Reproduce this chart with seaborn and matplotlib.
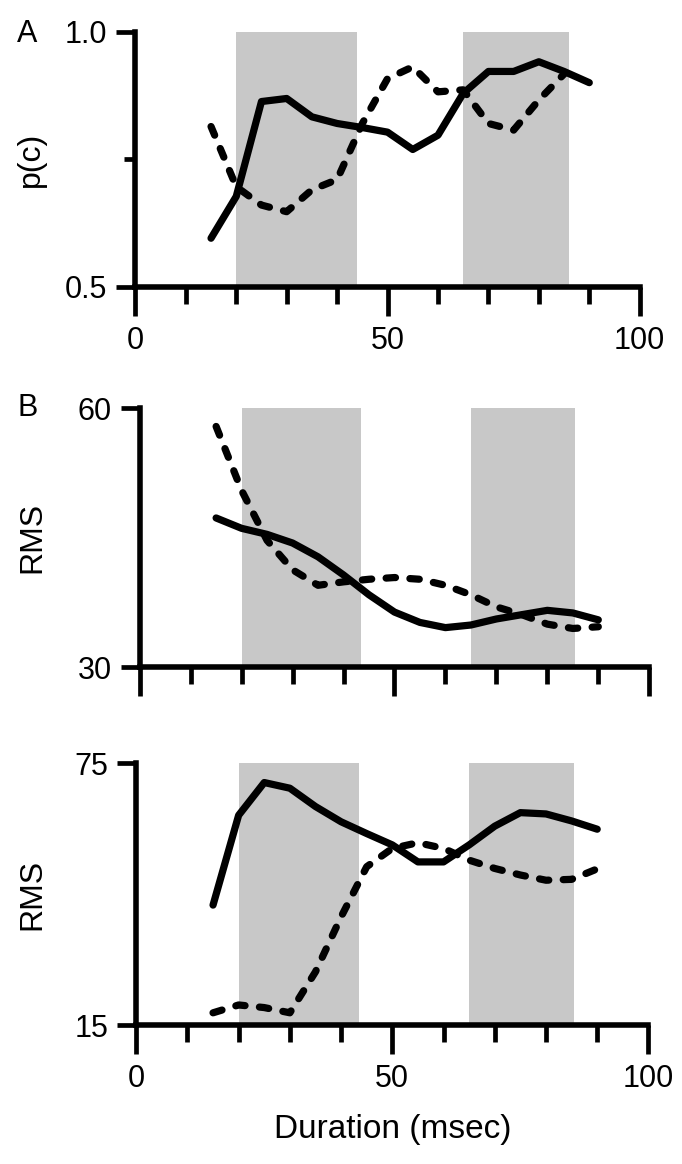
import pandas as pd

import matplotlib
matplotlib.use("Agg")
import matplotlib.pyplot as plt
import seaborn as sns

# Stimulus durations (msec)
duration = [15, 20, 25, 30, 35, 40, 45, 50, 55, 60, 65, 70, 75, 80, 85, 90]

# Panel A: proportion correct p(c)
pc_solid = [0.595, 0.677, 0.863, 0.869, 0.833, 0.820, 0.812, 0.803,
            0.769, 0.797, 0.879, 0.922, 0.922, 0.941, 0.922, 0.900]
pc_dashed = [0.814, 0.696, 0.660, 0.647, 0.690, 0.710, 0.820, 0.908,
             0.931, 0.882, 0.886, 0.820, 0.807, 0.866, 0.917]

# Panel B: RMS (30-60)
rms_b_solid = [47.3, 46.1, 45.4, 44.4, 42.8, 40.7, 38.4, 36.4,
               35.2, 34.6, 34.9, 35.6, 36.1, 36.6, 36.3, 35.5]
rms_b_dashed = [57.9, 50.5, 44.7, 41.3, 39.5, 39.9, 40.2, 40.4,
                40.2, 39.5, 38.4, 37.0, 36.1, 35.0, 34.5, 34.7]

# Panel C: RMS (15-75)
rms_c_solid = [42.5, 63.1, 70.6, 69.3, 65.1, 61.6, 58.9, 56.3,
               52.4, 52.4, 56.3, 60.6, 63.7, 63.4, 61.8, 59.9]
rms_c_dashed = [17.8, 19.6, 19.0, 17.8, 27.2, 39.8, 51.3, 55.5,
                56.8, 55.5, 52.8, 50.9, 49.4, 48.2, 48.4, 50.8]

# Shaded duration windows (msec)
shade_a = [(20, 44), (65, 86)]
shade_bc = [(20, 43.5), (65, 85.5)]

# Axis settings
x_major = [0, 50, 100]
x_minor = [10, 20, 30, 40, 60, 70, 80, 90]


def to_long(solid, dashed):
    """Build a long-form dataframe with one row per point"""
    rows = []
    for x, y in zip(duration, solid):
        rows.append([x, y, "solid"])
    for x, y in zip(duration, dashed):
        rows.append([x, y, "dashed"])
    return pd.DataFrame(rows, columns=["duration", "value", "line"])


def draw_panel(ax, df, spans, ylim, yticks, ylabels, ylabel, label_x, show_xlabels):
    # Grey windows behind the curves
    for start, end in spans:
        ax.axvspan(start, end, color="#c8c8c8", lw=0, zorder=0)

    # Solid and dashed curves
    sns.lineplot(data=df, x="duration", y="value", style="line",
                 dashes={"solid": "", "dashed": (1.3, 2.0)}, color="black",
                 linewidth=5.2, estimator=None, legend=False, ax=ax,
                 solid_joinstyle="round", solid_capstyle="round",
                 dash_capstyle="round", dash_joinstyle="round")

    ax.set_xlim(0, 100)
    ax.set_ylim(*ylim)

    # Ticks: long majors at 0/50/100, short minors every 10
    ax.set_xticks(x_major)
    ax.set_xticks(x_minor, minor=True)
    ax.set_yticks(yticks)
    ax.set_yticklabels(ylabels)
    if not show_xlabels:
        ax.set_xticklabels([])
    ax.tick_params(axis="x", which="major", length=21, width=3.4, labelsize=22, pad=7)
    ax.tick_params(axis="x", which="minor", length=12.5, width=3.4)
    ax.tick_params(axis="y", which="major", length=14, width=3.4, labelsize=22, pad=6)
    ax.tick_params(axis="y", which="minor", length=8, width=3.4)

    sns.despine(ax=ax)
    for side in ["left", "bottom"]:
        ax.spines[side].set_linewidth(4)

    ax.set_xlabel("")
    ax.set_ylabel(ylabel, fontsize=23)
    ax.yaxis.set_label_coords(label_x, 0.5)


sns.set_style("ticks", {"axes.edgecolor": "black", "xtick.color": "black",
                        "ytick.color": "black", "text.color": "black",
                        "axes.labelcolor": "black"})
plt.rcParams["font.family"] = ["Liberation Sans", "DejaVu Sans"]

fig = plt.figure(figsize=(6.82, 11.64), dpi=100)

# Panel A
ax_a = fig.add_axes([0.1985, 0.7537, 0.7395, 0.2191])
draw_panel(ax_a, to_long(pc_solid, pc_dashed), shade_a, (0.5, 1.0),
           [0.5, 1.0], ["0.5", "1.0"], "p(c)", -0.177, True)
ax_a.set_yticks([0.75], minor=True)

# Panel B
ax_b = fig.add_axes([0.2048, 0.4267, 0.7472, 0.2225])
draw_panel(ax_b, to_long(rms_b_solid, rms_b_dashed), shade_bc, (30, 60),
           [30, 60], ["30", "60"], "RMS", -0.181, False)

# Panel C
ax_c = fig.add_axes([0.1997, 0.1194, 0.7511, 0.2248])
draw_panel(ax_c, to_long(rms_c_solid, rms_c_dashed), shade_bc, (15, 75),
           [15, 75], ["15", "75"], "RMS", -0.173, True)
ax_c.set_xlabel("Duration (msec)", fontsize=24)
ax_c.xaxis.set_label_coords(0.5, -0.34)

# Panel letters
fig.text(17 / 682, 1 - 34 / 1164, "A", fontsize=22, ha="left", va="center")
fig.text(17 / 682, 1 - 408 / 1164, "B", fontsize=22, ha="left", va="center")

fig.savefig("out.png", dpi=100)
